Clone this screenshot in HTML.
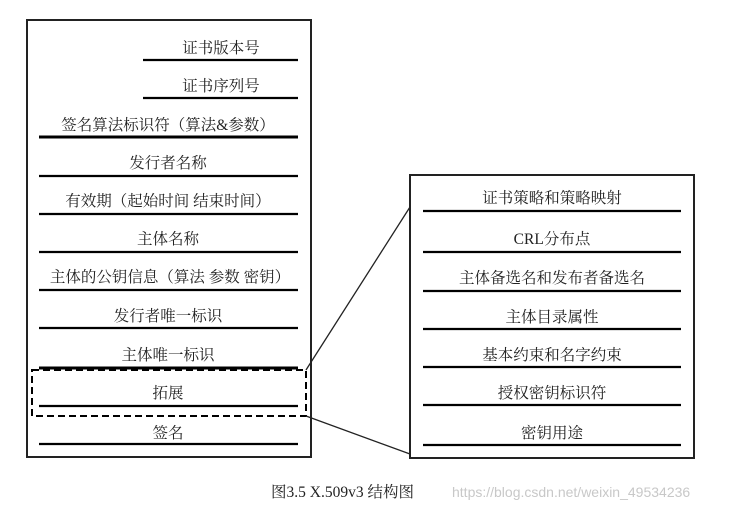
<!DOCTYPE html><html><head><meta charset="utf-8"><style>body{margin:0;background:#fff}</style></head><body>
<svg width="736" height="512" xmlns="http://www.w3.org/2000/svg" style="display:block;font-family:'Liberation Serif','Noto Serif CJK SC',serif">
<rect x="27" y="20" width="284" height="437" fill="none" stroke="#222" stroke-width="2"/>
<g stroke="#000" stroke-width="2.2">
<line x1="143" y1="60" x2="298" y2="60"/><line x1="143" y1="98" x2="298" y2="98"/>
<line x1="39" y1="137" x2="298" y2="137" stroke-width="3"/>
<line x1="39" y1="176" x2="298" y2="176"/><line x1="39" y1="214" x2="298" y2="214"/>
<line x1="39" y1="252" x2="298" y2="252"/><line x1="39" y1="290" x2="298" y2="290"/>
<line x1="39" y1="328" x2="298" y2="328"/><line x1="39" y1="368" x2="298" y2="368" stroke-width="3"/>
<line x1="39" y1="406" x2="298" y2="406"/><line x1="39" y1="444" x2="298" y2="444"/>
</g>
<rect x="32" y="370" width="274" height="46" fill="none" stroke="#000" stroke-width="2" stroke-dasharray="7,4"/>
<line x1="306" y1="370" x2="410" y2="207" stroke="#222" stroke-width="1.3"/>
<line x1="306" y1="416" x2="410" y2="454" stroke="#222" stroke-width="1.3"/>
<rect x="410" y="175" width="284" height="283" fill="none" stroke="#222" stroke-width="2"/>
<g stroke="#000" stroke-width="2.2">
<line x1="423" y1="211" x2="681" y2="211"/><line x1="423" y1="252" x2="681" y2="252"/>
<line x1="423" y1="291" x2="681" y2="291"/><line x1="423" y1="329" x2="681" y2="329"/>
<line x1="423" y1="367" x2="681" y2="367"/><line x1="423" y1="405" x2="681" y2="405"/>
<line x1="423" y1="445" x2="681" y2="445"/>
</g>
<g font-size="15.5" fill="#222" text-anchor="middle">
<text x="221" y="53">证书版本号</text><text x="221" y="91">证书序列号</text>
<text x="168" y="130">签名算法标识符（算法&amp;参数）</text>
<text x="168" y="168">发行者名称</text><text x="168" y="206">有效期（起始时间 结束时间）</text>
<text x="168" y="244">主体名称</text><text x="170" y="282">主体的公钥信息（算法 参数 密钥）</text>
<text x="168" y="321">发行者唯一标识</text><text x="168" y="360">主体唯一标识</text>
<text x="168" y="398">拓展</text><text x="168" y="438">签名</text>
<text x="552" y="203">证书策略和策略映射</text><text x="552" y="244">CRL分布点</text>
<text x="552" y="283">主体备选名和发布者备选名</text><text x="552" y="322">主体目录属性</text>
<text x="552" y="360">基本约束和名字约束</text><text x="552" y="398">授权密钥标识符</text>
<text x="552" y="438">密钥用途</text>
</g>
<text x="271" y="497" font-size="15.5" fill="#222">图3.5  X.509v3 结构图</text>
<text x="452" y="497" font-size="14" fill="#c8c8c8" font-family="Liberation Sans,sans-serif">https://blog.csdn.net/weixin_49534236</text>
</svg></body></html>
